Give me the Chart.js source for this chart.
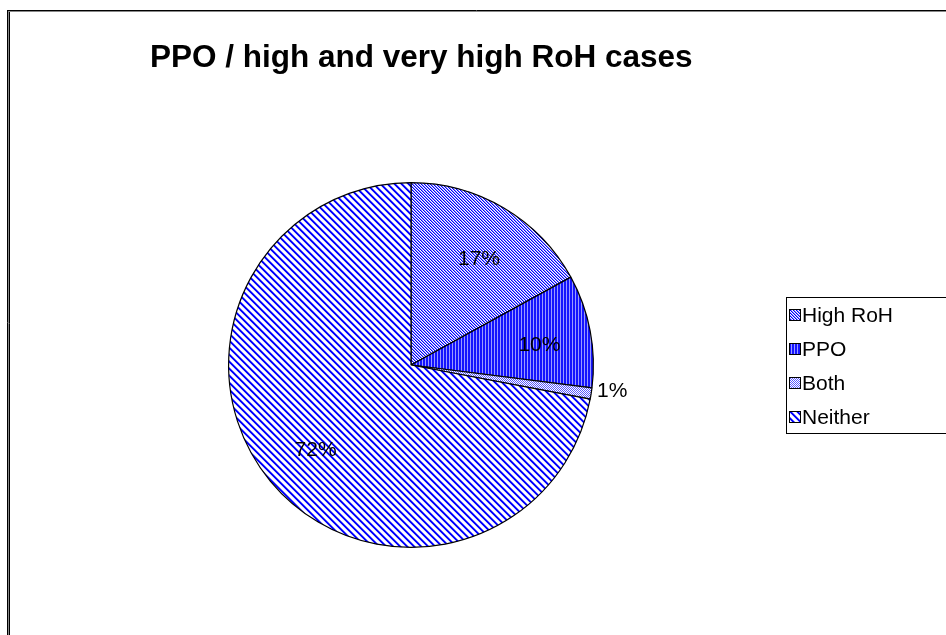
<!DOCTYPE html>
<html>
<head>
<meta charset="utf-8">
<title>PPO / high and very high RoH cases</title>
<script src="https://cdn.jsdelivr.net/npm/chart.js@4"></script>
<style>
    body { margin: 0; background: #fff; }
    #wrap { position: relative; width: 946px; height: 635px; }
</style>
</head>
<body>
<div id="wrap"><canvas id="graficoPizza"></canvas></div>
<script>
// pizza.js — PPO / RoH

const titulo = 'PPO / high and very high RoH cases'
const categorias = ['High RoH', 'PPO', 'Both', 'Neither']
const percentuais = [17, 10, 1, 72]

const fonte = '"Liberation Sans", Arial, sans-serif'

// hatch fills, built pixel by pixel so they stay crisp
function padrao(tam, corPixel) {
    const c = document.createElement('canvas')
    c.width = tam
    c.height = tam
    const g = c.getContext('2d')
    for (let y = 0; y < tam; y++) {
        for (let x = 0; x < tam; x++) {
            g.fillStyle = corPixel(x, y)
            g.fillRect(x, y, 1, 1)
        }
    }
    return g.createPattern(c, 'repeat')
}

const preenchimentos = [
    padrao(3, (x, y) => ['#0000ff', '#8c8cff', '#ffffff'][(x - y + 30) % 3]),
    padrao(3, (x, y) => x % 3 === 2 ? '#9a9aff' : '#1414ff'),
    padrao(2, (x, y) => (x + y) % 2 ? '#ffffff' : '#5a5aff'),
    padrao(7, (x, y) => ['#0000ff', '#0000ff', '#8080ff', '#ffffff', '#ffffff', '#ffffff', '#c0c0ff'][(x - y + 70) % 7]),
]

// frame lines, title and boxed legend
const extras = {
    id: 'extras',
    beforeDraw(chart) {
        const g = chart.ctx
        g.save()
        g.fillStyle = '#fff'
        g.fillRect(0, 0, chart.width, chart.height)
        g.lineWidth = 1
        g.strokeStyle = '#000'
        g.beginPath()
        g.moveTo(7.5, chart.height); g.lineTo(7.5, 10.5)
        g.moveTo(9.5, chart.height); g.lineTo(9.5, 11.5)
        g.moveTo(7, 10.5); g.lineTo(chart.width, 10.5)
        g.stroke()
        g.strokeStyle = '#888'
        g.beginPath()
        g.moveTo(8.5, chart.height); g.lineTo(8.5, 11.5)
        g.moveTo(8, 11.5); g.lineTo(chart.width, 11.5)
        g.stroke()
        g.restore()
    },
    afterDraw(chart) {
        const g = chart.ctx
        g.save()
        g.fillStyle = '#000'
        g.font = 'bold 31.5px ' + fonte
        g.textBaseline = 'alphabetic'
        g.textAlign = 'left'
        g.fillText(titulo, 150, 67)

        // legend
        g.strokeStyle = '#000'
        g.lineWidth = 1
        g.strokeRect(786.5, 297.5, 200, 136)
        g.font = '21px ' + fonte
        g.textBaseline = 'middle'
        categorias.forEach((nome, i) => {
            const y = 315 + i * 34
            g.fillStyle = preenchimentos[i]
            g.fillRect(790, y - 5, 10, 10)
            g.strokeRect(789.5, y - 5.5, 11, 11)
            g.fillStyle = '#000'
            g.fillText(nome, 802, y + 1)
        })
        g.restore()
    },
    afterDatasetsDraw(chart) {
        const g = chart.ctx
        const arcos = chart.getDatasetMeta(0).data
        g.save()
        g.fillStyle = '#000'
        g.font = '21px ' + fonte
        g.textBaseline = 'middle'
        arcos.forEach((arco, i) => {
            const meio = (arco.startAngle + arco.endAngle) / 2
            const texto = percentuais[i] + '%'
            if (percentuais[i] < 3) {
                const r = arco.outerRadius + 6
                g.textAlign = 'left'
                g.fillText(texto, arco.x + Math.cos(meio) * r, arco.y + Math.sin(meio) * r - 3)
            } else {
                const r = arco.outerRadius * 0.7
                g.textAlign = 'center'
                g.fillText(texto, arco.x + Math.cos(meio) * r + 3, arco.y + Math.sin(meio) * r + 4)
            }
        })
        g.restore()
    }
}

new Chart(document.getElementById('graficoPizza'), {
    type: 'pie',
    data: {
        labels: categorias,
        datasets: [{
            data: percentuais,
            backgroundColor: preenchimentos,
            borderColor: '#000',
            borderWidth: 1.2,
        }]
    },
    options: {
        responsive: true,
        maintainAspectRatio: false,
        animation: false,
        events: [],
        layout: { padding: { left: 228, right: 352, top: 182, bottom: 87 } },
        plugins: {
            legend: { display: false },
            tooltip: { enabled: false },
            title: { display: false }
        }
    },
    plugins: [extras]
})
</script>
</body>
</html>
